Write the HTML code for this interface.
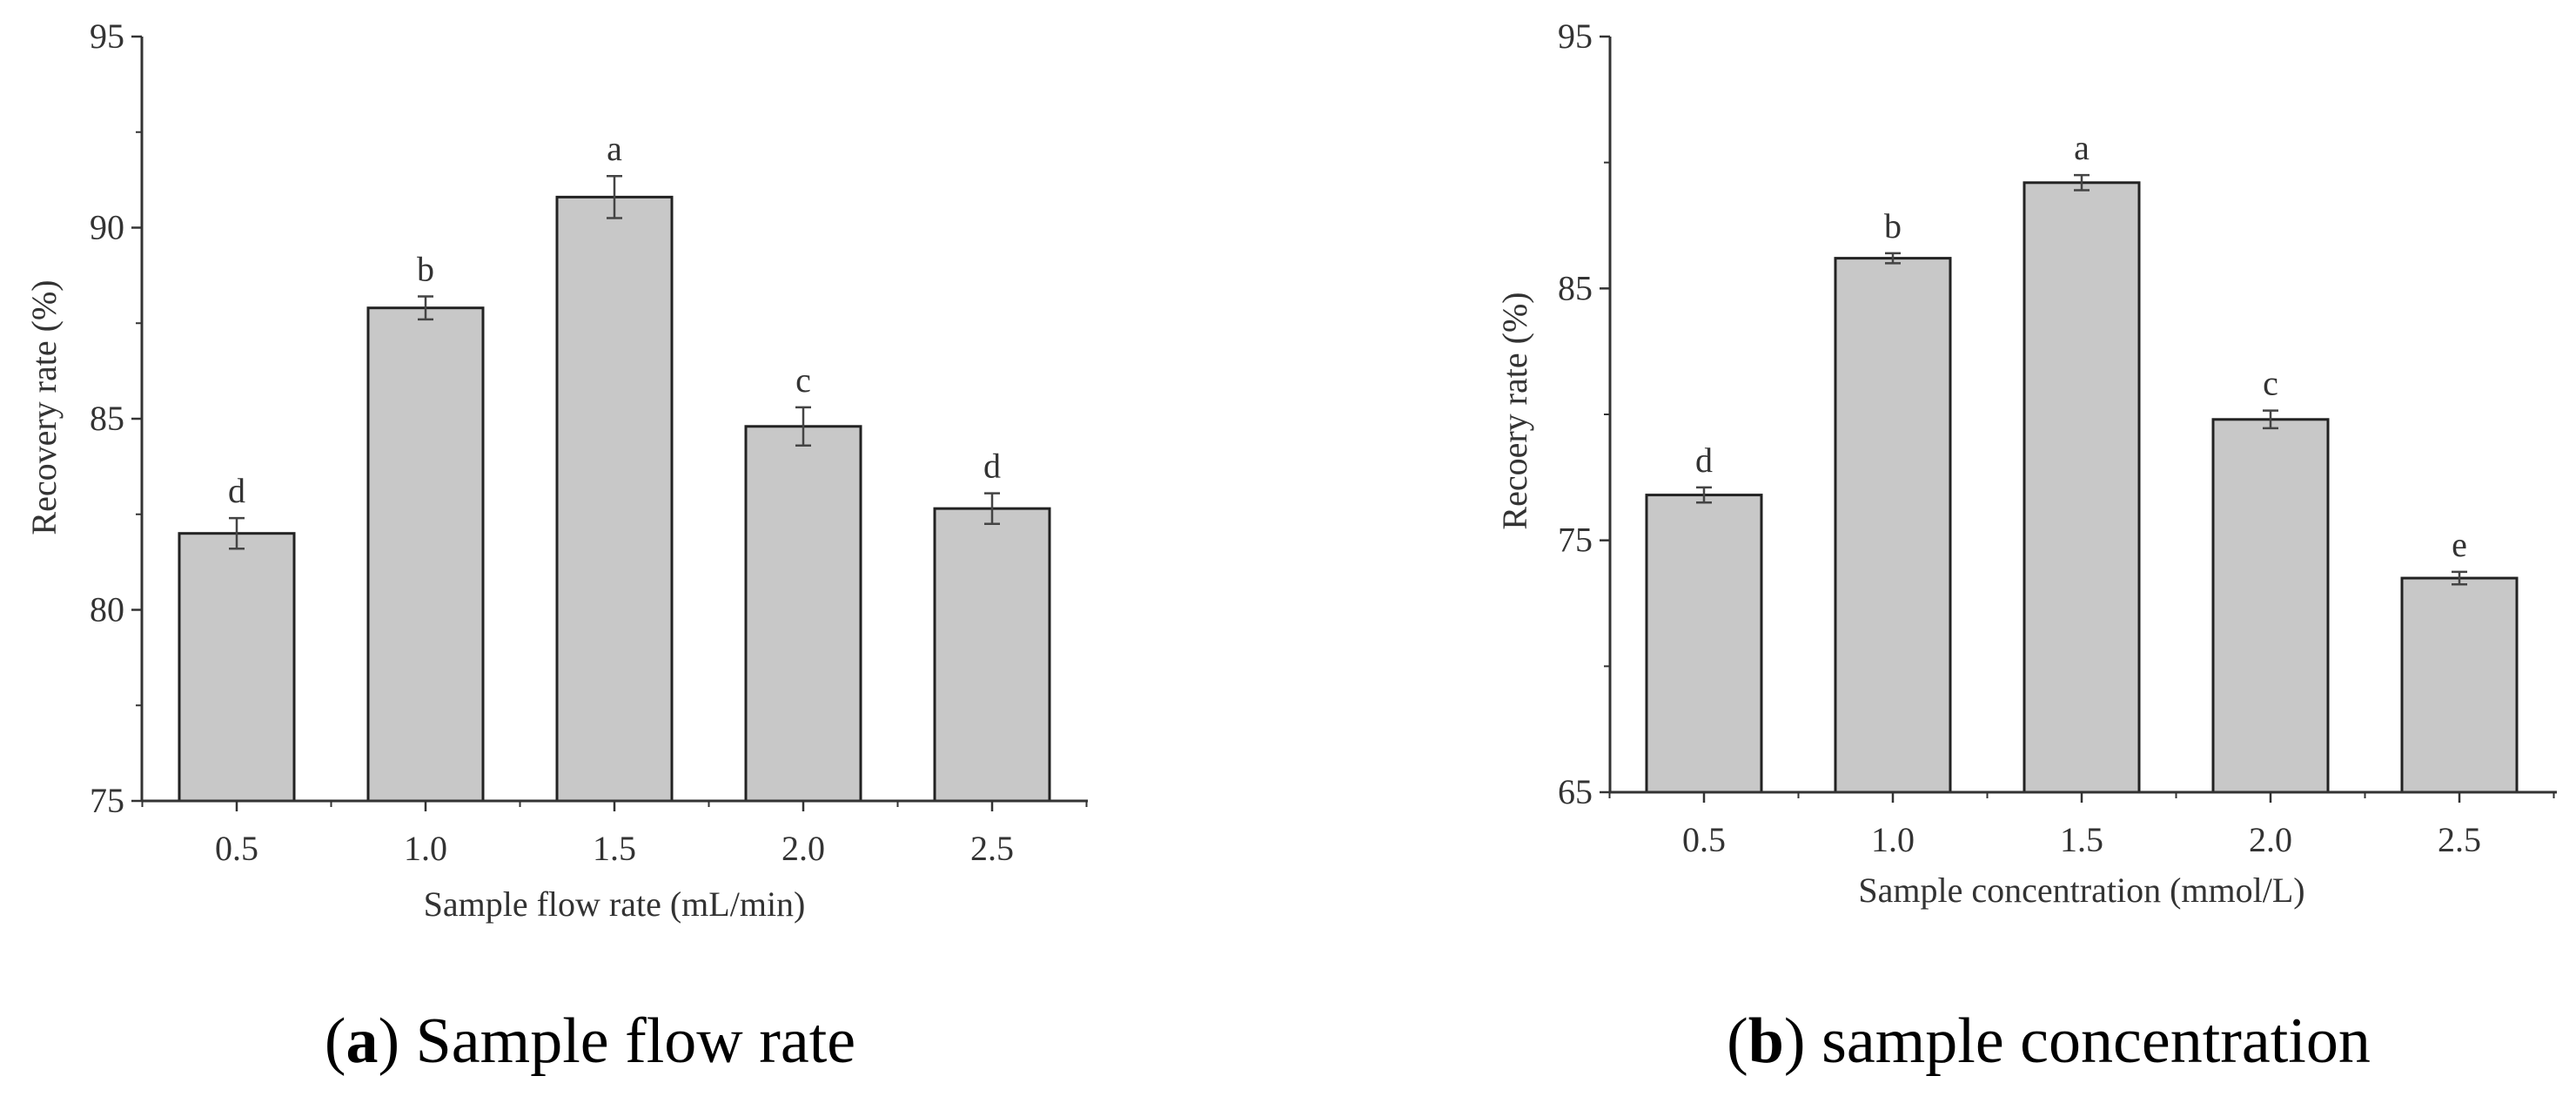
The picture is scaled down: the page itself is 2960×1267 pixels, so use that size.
<!DOCTYPE html>
<html><head><meta charset="utf-8"><style>
html,body{margin:0;padding:0;background:#fff;}
svg{display:block;font-family:"Liberation Serif",serif;}
</style></head><body>
<svg id="chart" width="2960" height="1267" viewBox="0 0 2960 1267" xmlns="http://www.w3.org/2000/svg">
<g id="pa"></g>
<g id="pb"></g>
<text x="678" y="1220" font-size="74" text-anchor="middle" fill="#000">(<tspan font-weight="bold">a</tspan>) Sample flow rate</text>
<text x="2354" y="1220" font-size="74" text-anchor="middle" fill="#000">(<tspan font-weight="bold">b</tspan>) sample concentration</text>
</svg>
<script>
const categoriesA = ["0.5","1.0","1.5","2.0","2.5"];
const valuesA = [82.0, 87.9, 90.8, 84.8, 82.65];
const errorsA = [0.4, 0.3, 0.55, 0.5, 0.4];
const lettersA = ["d","b","a","c","d"];
const ticksA = [75, 80, 85, 90, 95];

const categoriesB = ["0.5","1.0","1.5","2.0","2.5"];
const valuesB = [76.8, 86.2, 89.2, 79.8, 73.5];
const errorsB = [0.3, 0.2, 0.3, 0.35, 0.25];
const lettersB = ["d","b","a","c","e"];
const ticksB = [65, 75, 85, 95];

const NS = "http://www.w3.org/2000/svg";
function mk(parent, tag, attrs, text){
  const e = document.createElementNS(NS, tag);
  for (const k in attrs) e.setAttribute(k, attrs[k]);
  if (text !== undefined) e.textContent = text;
  parent.appendChild(e);
  return e;
}
function panel(g, cfg, cats, vals, errs, lets, ticks){
  const y = v => cfg.yBot - (v - cfg.min) / (cfg.max - cfg.min) * (cfg.yBot - cfg.yTop);
  const x = i => cfg.x0 + i * cfg.step;
  const ink = "#333";
  cats.forEach((c, i) => {
    const r = mk(g, "rect", {x: x(i) - 66, y: y(vals[i]), width: 132, height: cfg.yBot - y(vals[i]), fill: "#c8c8c8", stroke: "#222", "stroke-width": 3});
    
    
    const eb = mk(g, "path", {d: `M${x(i)} ${y(vals[i]+errs[i])}V${y(vals[i]-errs[i])}M${x(i)-9} ${y(vals[i]+errs[i])}h18M${x(i)-9} ${y(vals[i]-errs[i])}h18`, stroke: "#444", "stroke-width": 2.5, fill: "none"});
    
    
    const lt = mk(g, "text", {x: x(i), y: y(vals[i]+errs[i]) - 18, "font-size": 40, "text-anchor": "middle", fill: ink}, lets[i]);
    
    
    const xl = mk(g, "text", {x: x(i), y: cfg.yBot + 68, "font-size": 40, "text-anchor": "middle", fill: ink}, c);
    
    
    mk(g, "line", {x1: x(i), x2: x(i), y1: cfg.yBot, y2: cfg.yBot + 12, stroke: ink, "stroke-width": 2.5});
    mk(g, "line", {x1: x(i) + cfg.step/2, x2: x(i) + cfg.step/2, y1: cfg.yBot, y2: cfg.yBot + 7, stroke: ink, "stroke-width": 2});
  });
  mk(g, "line", {x1: x(0) - cfg.step/2, x2: x(0) - cfg.step/2, y1: cfg.yBot, y2: cfg.yBot + 7, stroke: ink, "stroke-width": 2});
  ticks.forEach((t, k) => {
    mk(g, "line", {x1: cfg.ax - 12, x2: cfg.ax, y1: y(t), y2: y(t), stroke: ink, "stroke-width": 2.5});
    const tl = mk(g, "text", {x: cfg.ax - 20, y: y(t) + 13, "font-size": 40, "text-anchor": "end", fill: ink}, t);
    
    
    if (k < ticks.length - 1) {
      const m = (t + ticks[k+1]) / 2;
      mk(g, "line", {x1: cfg.ax - 7, x2: cfg.ax, y1: y(m), y2: y(m), stroke: ink, "stroke-width": 2});
    }
  });
  const ya = mk(g, "line", {x1: cfg.ax, x2: cfg.ax, y1: cfg.yTop, y2: cfg.yBot, stroke: ink, "stroke-width": 3});
  
  
  const xa = mk(g, "line", {x1: cfg.ax, x2: cfg.axEnd, y1: cfg.yBot, y2: cfg.yBot, stroke: ink, "stroke-width": 3});
  
  
  const xt = mk(g, "text", {x: cfg.x0 + 2*cfg.step, y: cfg.xtY, "font-size": 40, "text-anchor": "middle", fill: ink}, cfg.xTitle);
  
  
  const yt = mk(g, "text", {x: 0, y: 0, "font-size": 40, "text-anchor": "middle", fill: ink, transform: `translate(${cfg.ytX},${cfg.ytY}) rotate(-90)`}, cfg.yTitle);
  
  
}
panel(document.getElementById("pa"), {min:75, max:95, yTop:42, yBot:920, x0:272, step:217, ax:163, axEnd:1250, xtY:1052, ytX:64, ytY:468, xTitle:"Sample flow rate (mL/min)", yTitle:"Recovery rate (%)"}, categoriesA, valuesA, errorsA, lettersA, ticksA);
panel(document.getElementById("pb"), {min:65, max:95, yTop:42, yBot:910, x0:1958, step:217, ax:1850, axEnd:2938, xtY:1036, ytX:1754, ytY:472, xTitle:"Sample concentration (mmol/L)", yTitle:"Recoery rate (%)"}, categoriesB, valuesB, errorsB, lettersB, ticksB);
</script>
</body></html>
